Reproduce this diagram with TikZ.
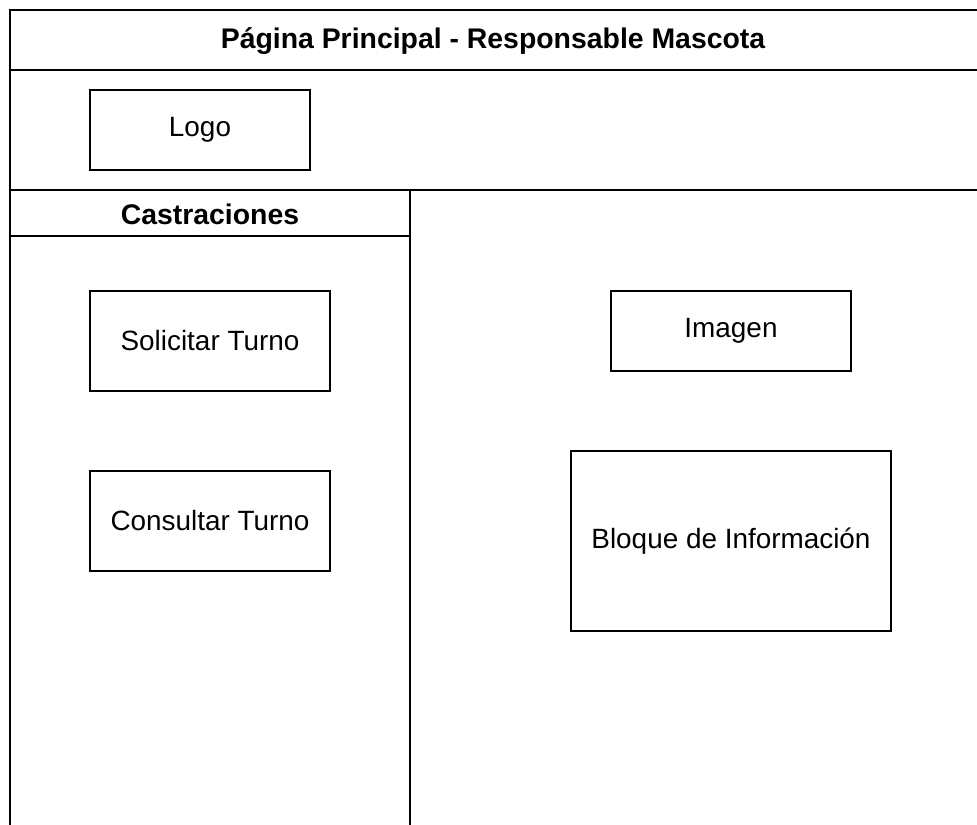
\documentclass[tikz,border=0pt]{standalone}
\usepackage{fontspec}
\setmainfont{Liberation Sans}
\begin{document}
\begin{tikzpicture}[x=1bp,y=-1bp,
  frame/.style={draw=black,line width=1.6bp},
  wbox/.style={draw=black,line width=1.6bp,fill=white,inner sep=0pt,font=\fontsize{28}{32}\selectfont},
  ttl/.style={inner sep=0pt,font=\fontsize{28.5}{32}\selectfont\bfseries}]
\useasboundingbox (0,0) rectangle (977,825);
% outer frame (open on right and bottom)
\draw[frame] (10,830) -- (10,10) -- (985,10);
\draw[frame] (10,70) -- (985,70);
\draw[frame] (10,190) -- (985,190);
\draw[frame] (10,236) -- (410,236);
\draw[frame] (410,190) -- (410,830);
% titles
\node[ttl] (title) at (493,41) {Página Principal - Responsable Mascota};
\node[ttl] (castr) at (210,214) {Castraciones};
% boxes
\node[wbox,minimum width=220bp,minimum height=80bp] (logo) at (200,130) {Logo};
\node[wbox,minimum width=240bp,minimum height=100bp] (sol) at (210,341) {Solicitar Turno};
\node[wbox,minimum width=240bp,minimum height=100bp] (con) at (210,521) {Consultar Turno};
\node[wbox,minimum width=240bp,minimum height=80bp] (img) at (731,331) {Imagen};
\node[wbox,minimum width=320bp,minimum height=180bp] (blq) at (731,541) {Bloque de Información};
\end{tikzpicture}
\end{document}
